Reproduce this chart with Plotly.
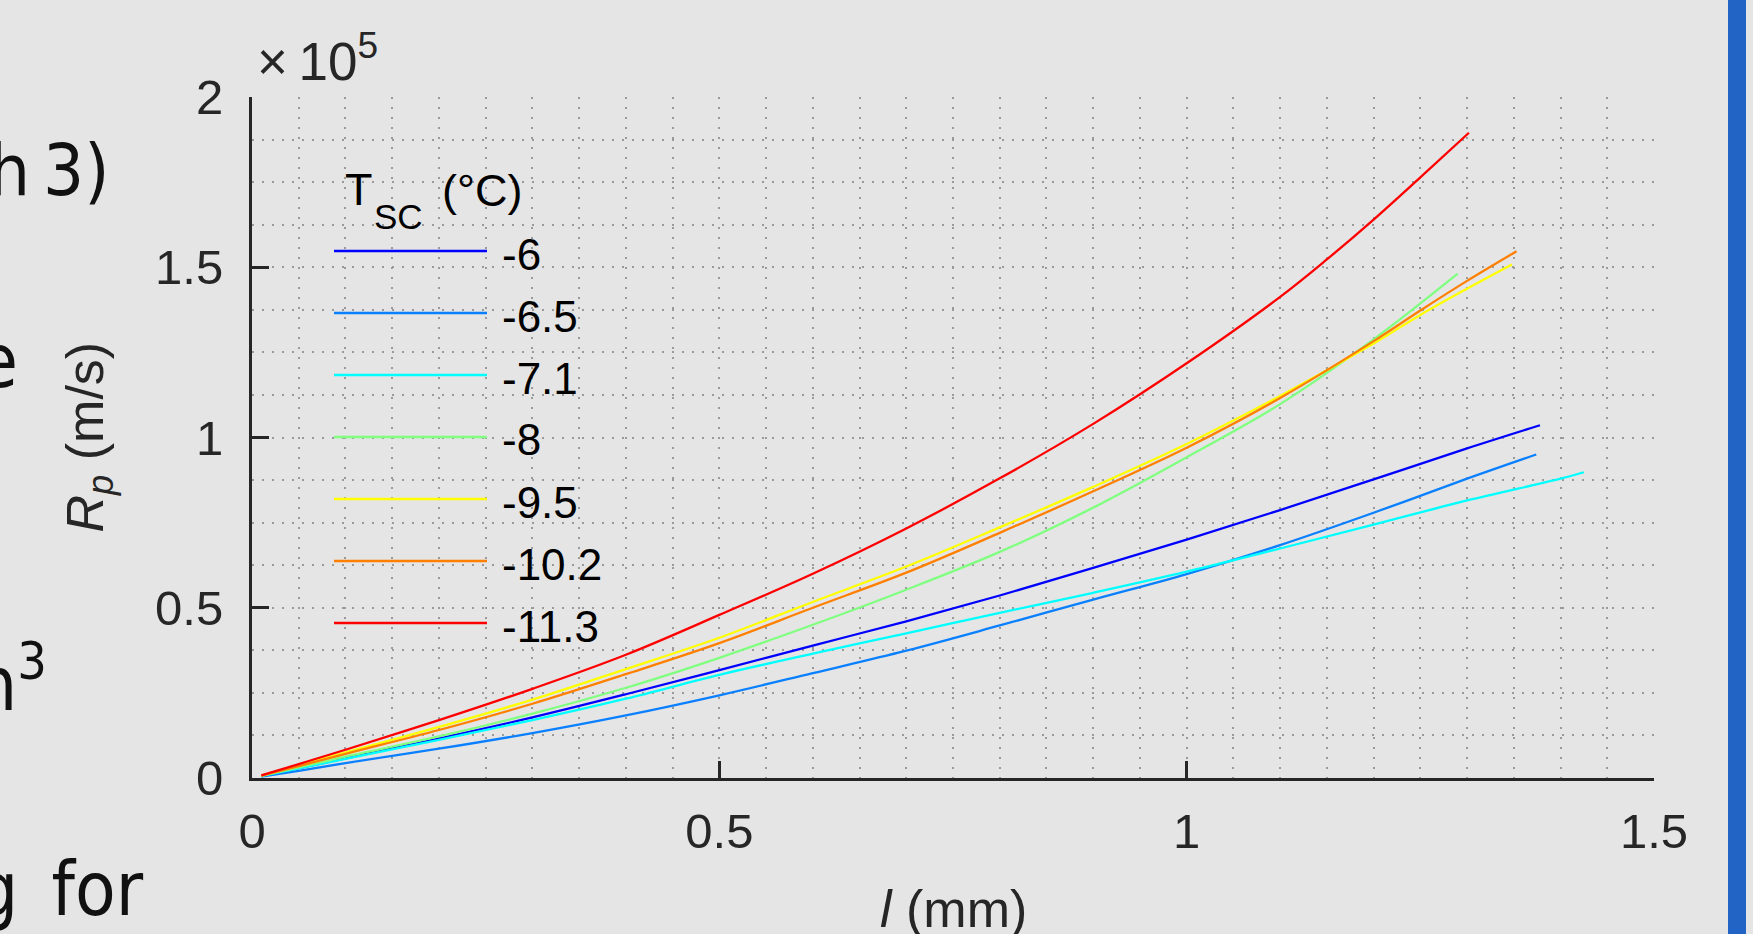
import plotly.graph_objects as go

# ---------------- data ----------------
# l in mm, R_p in units of 1e5 m/s
T_SC = ["-6", "-6.5", "-7.1", "-8", "-9.5", "-10.2", "-11.3"]
COLORS = ["#0000FF", "#0A80FF", "#00FFFF", "#80FF80", "#FFFF00", "#FF8000", "#FF0000"]

X_M6 = [0.01, 0.05, 0.1, 0.2, 0.3, 0.4, 0.5, 0.6, 0.7, 0.8, 0.9, 1.0, 1.1, 1.2, 1.3, 1.378]
Y_M6 = [0.006, 0.029, 0.058, 0.116, 0.178, 0.246, 0.317, 0.389, 0.460, 0.536, 0.617, 0.700, 0.787, 0.877, 0.968, 1.036]

X_M65 = [0.01, 0.05, 0.1, 0.2, 0.3, 0.4, 0.5, 0.6, 0.7, 0.8, 0.9, 1.0, 1.1, 1.2, 1.3, 1.374]
Y_M65 = [0.004, 0.021, 0.044, 0.086, 0.132, 0.184, 0.243, 0.308, 0.374, 0.448, 0.524, 0.599, 0.684, 0.779, 0.879, 0.950]

X_M71 = [0.01, 0.05, 0.1, 0.2, 0.3, 0.4, 0.5, 0.6, 0.7, 0.8, 0.9, 1.0, 1.1, 1.2, 1.3, 1.4, 1.425]
Y_M71 = [0.006, 0.028, 0.056, 0.112, 0.170, 0.233, 0.303, 0.365, 0.425, 0.485, 0.544, 0.606, 0.674, 0.744, 0.815, 0.879, 0.898]

X_M8 = [0.01, 0.05, 0.1, 0.2, 0.3, 0.4, 0.5, 0.6, 0.7, 0.8, 0.9, 1.0, 1.1, 1.2, 1.29]
Y_M8 = [0.006, 0.031, 0.063, 0.122, 0.189, 0.265, 0.353, 0.450, 0.553, 0.664, 0.794, 0.942, 1.098, 1.288, 1.481]

X_M95 = [0.01, 0.05, 0.1, 0.2, 0.3, 0.4, 0.5, 0.6, 0.7, 0.8, 0.9, 1.0, 1.1, 1.2, 1.25, 1.3, 1.348]
Y_M95 = [0.007, 0.037, 0.075, 0.150, 0.230, 0.320, 0.412, 0.517, 0.621, 0.736, 0.855, 0.981, 1.122, 1.276, 1.360, 1.437, 1.508]

X_M102 = [0.01, 0.05, 0.1, 0.2, 0.3, 0.4, 0.5, 0.6, 0.7, 0.8, 0.9, 1.0, 1.1, 1.2, 1.25, 1.3, 1.353]
Y_M102 = [0.007, 0.035, 0.071, 0.141, 0.218, 0.305, 0.396, 0.500, 0.603, 0.720, 0.842, 0.970, 1.116, 1.283, 1.373, 1.460, 1.547]

X_M113 = [0.01, 0.05, 0.1, 0.2, 0.3, 0.4, 0.5, 0.6, 0.7, 0.8, 0.9, 1.0, 1.1, 1.15, 1.2, 1.25, 1.302]
Y_M113 = [0.008, 0.041, 0.083, 0.170, 0.262, 0.362, 0.479, 0.600, 0.733, 0.880, 1.040, 1.218, 1.413, 1.523, 1.640, 1.764, 1.895]

SERIES_X = [X_M6, X_M65, X_M71, X_M8, X_M95, X_M102, X_M113]
SERIES_Y = [Y_M6, Y_M65, Y_M71, Y_M8, Y_M95, Y_M102, Y_M113]

X_TICKS = [0, 0.5, 1, 1.5]
X_TICKTEXT = ["0", "0.5", "1", "1.5"]
Y_TICKS = [0, 0.5, 1, 1.5, 2]
Y_TICKTEXT = ["0", "0.5", "1", "1.5", "2"]

# ---------------- figure ----------------
W, H = 1753, 934
ML, MR, MT, MB = 252, 99, 97, 156
PW = W - ML - MR
PH = H - MT - MB
BG = "#E5E5E5"
INK = "#262626"
FONT = "Liberation Sans, Arial, Helvetica, sans-serif"
SLIDE_FONT = "Liberation Sans Narrow, DejaVu Sans Condensed, Roboto, sans-serif"


def px_x(p):
    return (p - ML) / PW


def px_y(p):
    return (H - MB - p) / PH


fig = go.Figure()
for name, col, xs, ys in zip(T_SC, COLORS, SERIES_X, SERIES_Y):
    fig.add_trace(go.Scatter(
        x=xs, y=ys, mode="lines", name=name,
        line=dict(color=col, width=2.3, shape="spline", smoothing=1.0),
        showlegend=False,
    ))

grid = dict(gridcolor="#9A9A9A", griddash="2px,8px", gridwidth=1.8)

fig.update_layout(
    width=W, height=H,
    margin=dict(l=ML, r=MR, t=MT, b=MB),
    paper_bgcolor=BG, plot_bgcolor=BG,
    font=dict(family=FONT, color=INK, size=49),
    xaxis=dict(
        range=[0, 1.5], tickvals=X_TICKS, ticktext=X_TICKTEXT,
        ticks="inside", ticklen=17, tickwidth=2.5, tickcolor=INK,
        showline=True, linecolor=INK, linewidth=3, mirror=False,
        showgrid=True, zeroline=False, ticklabelstandoff=8,
        tickfont=dict(size=49, color=INK, family=FONT),
        minor=dict(dtick=0.05, tick0=0, showgrid=True, **grid),
        **grid,
    ),
    yaxis=dict(
        range=[0, 2], tickvals=Y_TICKS, ticktext=Y_TICKTEXT,
        ticks="inside", ticklen=17, tickwidth=2.5, tickcolor=INK,
        showline=True, linecolor=INK, linewidth=3, mirror=False,
        showgrid=True, zeroline=False, ticklabelstandoff=16,
        tickfont=dict(size=49, color=INK, family=FONT),
        minor=dict(dtick=0.125, tick0=0, showgrid=True, **grid),
        **grid,
    ),
)

annotations = []
shapes = []

# exponent label
annotations.append(dict(
    xref="paper", yref="paper", x=px_x(255), y=1.0, xanchor="left", yanchor="bottom",
    yshift=4, text="×\u200910<sup>5</sup>", showarrow=False,
    font=dict(size=53, color=INK, family=FONT),
))
# axis titles
annotations.append(dict(
    xref="paper", yref="paper", x=px_x(88), y=0.5, xanchor="center", yanchor="middle",
    textangle=-90, text="<i>R</i><sub><i>p</i></sub> (m/s)", showarrow=False,
    font=dict(size=52, color=INK, family=FONT),
))
annotations.append(dict(
    xref="paper", yref="paper", x=0.5, y=px_y(878), xanchor="center", yanchor="top",
    text="<i>l</i> (mm)", showarrow=False,
    font=dict(size=52, color=INK, family=FONT),
))

# manual legend (long line samples, no box); title built from three pieces
for txt, left_px, mid_px, size in [
    ("T", 343, 189, 45),
    ("SC", 372, 216, 35),
    ("(°C)", 440, 191, 45),
]:
    annotations.append(dict(
        xref="paper", yref="paper", x=px_x(left_px), y=px_y(mid_px), xanchor="left", yanchor="middle",
        text=txt, showarrow=False,
        font=dict(size=size, color="#000000", family=FONT),
    ))
LEG_Y0, LEG_DY = 251, 62
for i, (name, col) in enumerate(zip(T_SC, COLORS)):
    py = LEG_Y0 + i * LEG_DY
    shapes.append(dict(
        type="line", xref="paper", yref="paper",
        x0=px_x(334), x1=px_x(487), y0=px_y(py), y1=px_y(py),
        line=dict(color=col, width=2.5), layer="above",
    ))
    annotations.append(dict(
        xref="paper", yref="paper", x=px_x(500), y=px_y(py + 3), xanchor="left", yanchor="middle",
        text=name, showarrow=False,
        font=dict(size=44, color="#000000", family=FONT),
    ))

# cropped slide text on the left edge
for txt, right_px, base_px, size in [
    ("h\u20093)", 111, 192, 72),
    ("e", 20, 383, 74),
    ("n<sup>3</sup>", 49, 701, 74),
    ("g\u2002for", 146, 911, 74),
]:
    annotations.append(dict(
        xref="paper", yref="paper", x=px_x(right_px), y=px_y(base_px - 0.3 * size),
        xanchor="right", yanchor="middle", text=txt, showarrow=False,
        font=dict(size=size, color="#111111", family=SLIDE_FONT),
    ))

# blue bar at right edge of the slide
shapes.append(dict(
    type="rect", xref="paper", yref="paper",
    x0=px_x(1728), x1=px_x(1746), y0=px_y(H + 20), y1=px_y(-20),
    fillcolor="#2264C6", line=dict(width=0), layer="above",
))

fig.update_layout(annotations=annotations, shapes=shapes)
fig.write_html(
    "out.html",
    config={"displayModeBar": False},
    post_script="document.body.style.margin='0';document.body.style.overflow='hidden';",
)
